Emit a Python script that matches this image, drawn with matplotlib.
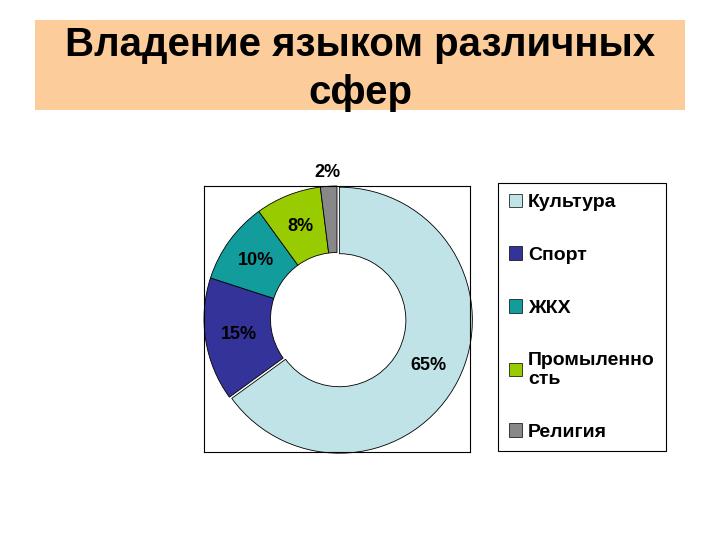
import matplotlib.pyplot as plt
from matplotlib.patches import Rectangle, Patch
import numpy as np

plt.rcParams['font.family'] = ['Liberation Sans', 'DejaVu Sans']

# data
categories = ['Культура', 'Спорт', 'ЖКХ', 'Промыленно\nсть', 'Религия']
shares = [65, 15, 10, 8, 2]
colors = ['#BFE3E6', '#333399', '#129C9C', '#99CC00', '#888888']
title = 'Владение языком различных\nсфер'

fig = plt.figure(figsize=(7.2, 5.4), dpi=100)

# title banner
fig.patches.append(Rectangle((35 / 720, 1 - 110 / 540), 650 / 720, 90 / 540,
                             transform=fig.transFigure, facecolor='#FCCD9A',
                             edgecolor='none', zorder=0))
fig.text(0.5, 1 - 69 / 540, title, ha='center', va='center', fontsize=29,
         fontweight='bold', linespacing=1.35)

# donut
ax = fig.add_axes([204 / 720, 1 - 452 / 540, 266 / 720, 266 / 540])
wedges, texts, autotexts = ax.pie(
    shares, colors=colors, startangle=90, counterclock=False,
    explode=[0.02, 0, 0, 0, 0], radius=1.0,
    autopct='%d%%', pctdistance=0.75,
    wedgeprops=dict(width=0.5, edgecolor='black', linewidth=0.6),
    textprops=dict(fontsize=13, fontweight='bold', color='black'))
# smallest slice label sits outside the ring
w = wedges[-1]
ang = np.deg2rad((w.theta1 + w.theta2) / 2)
autotexts[-1].set_position((1.1 * np.cos(ang), 1.1 * np.sin(ang)))
ax.set_xlim(-1.0, 1.0)
ax.set_ylim(-1.0, 1.0)
ax.set_aspect('auto')
ax.set_frame_on(True)
ax.axis('on')
ax.set_xticks([])
ax.set_yticks([])
for s in ax.spines.values():
    s.set_visible(True)
    s.set_linewidth(0.8)
for t in autotexts:
    t.set_clip_on(False)

# legend
handles = [Patch(facecolor=c, edgecolor='black', linewidth=0.5) for c in colors]
leg = fig.legend(handles, categories, loc='upper left',
                 bbox_to_anchor=(498 / 720, 1 - 183 / 540),
                 prop=dict(size=14, weight='bold'), labelspacing=1.8,
                 handlelength=0.7, handleheight=0.7, handletextpad=0.3,
                 borderaxespad=0, borderpad=0.55, fancybox=False,
                 edgecolor='black', framealpha=1)
leg.get_frame().set_linewidth(0.8)

fig.savefig('out.png', dpi=100)
